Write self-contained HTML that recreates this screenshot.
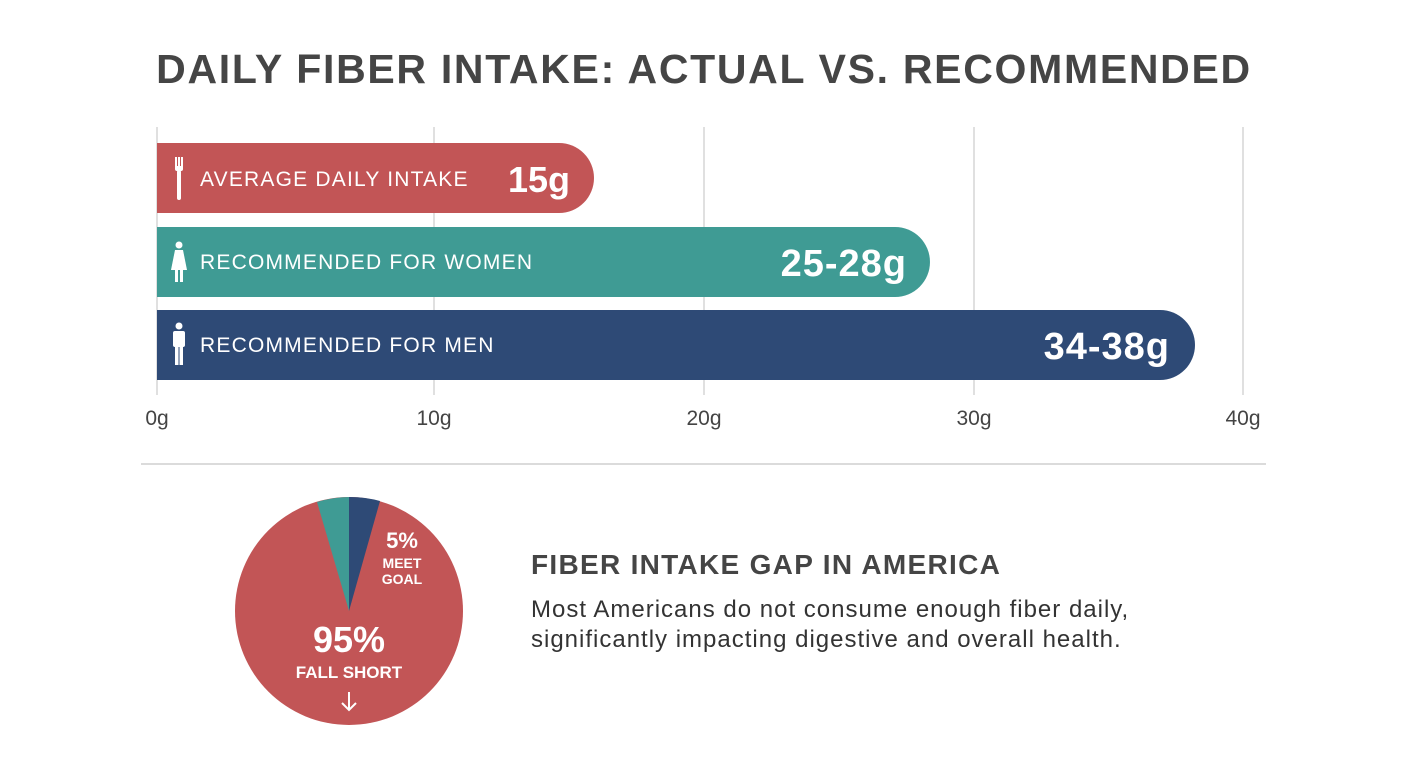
<!DOCTYPE html>
<html><head><meta charset="utf-8"><style>
html,body{margin:0;padding:0;background:#fff;}
body{width:1408px;height:768px;position:relative;overflow:hidden;font-family:"Liberation Sans",sans-serif;}
</style></head><body>
<svg width="1408" height="768" style="position:absolute;left:0;top:0" font-family="Liberation Sans, sans-serif">
<text x="704" y="83" text-anchor="middle" font-size="41" font-weight="bold" fill="#454545" letter-spacing="1.7">DAILY FIBER INTAKE: ACTUAL VS. RECOMMENDED</text>
<g stroke="#d6d6d6" stroke-width="1.5">
<line x1="157" y1="127" x2="157" y2="395"/><line x1="434" y1="127" x2="434" y2="395"/>
<line x1="704" y1="127" x2="704" y2="395"/><line x1="974" y1="127" x2="974" y2="395"/>
<line x1="1243" y1="127" x2="1243" y2="395"/>
</g>
<path d="M157 143 H559 A35 35 0 0 1 559 213 H157 Z" fill="#c25556"/>
<path d="M157 227 H895 A35 35 0 0 1 895 297 H157 Z" fill="#3f9b94"/>
<path d="M157 310 H1160 A35 35 0 0 1 1160 380 H157 Z" fill="#2e4a76"/>
<g fill="#fff">
<rect x="175" y="157" width="2" height="11"/><rect x="178" y="157" width="2" height="11"/><rect x="181" y="157" width="2" height="11"/>
<rect x="175" y="166" width="8" height="5" rx="2"/><rect x="177" y="170" width="4" height="30" rx="2"/>
<circle cx="179" cy="245" r="3.5"/><path d="M175 250 H183 L187 270 H171 Z"/><rect x="175" y="269" width="3" height="13"/><rect x="180" y="269" width="3" height="13"/>
<circle cx="179" cy="326" r="3.5"/><rect x="173" y="331" width="12" height="16" rx="2"/><rect x="175" y="345" width="3.5" height="20"/><rect x="179.5" y="345" width="3.5" height="20"/>
</g>
<g fill="#fff" font-size="21" letter-spacing="1.2">
<text x="200" y="186">AVERAGE DAILY INTAKE</text>
<text x="200" y="269">RECOMMENDED FOR WOMEN</text>
<text x="200" y="352">RECOMMENDED FOR MEN</text>
</g>
<g fill="#fff" font-weight="bold" text-anchor="end">
<text x="570" y="192" font-size="36">15g</text>
<text x="907" y="276" font-size="38" letter-spacing="1">25-28g</text>
<text x="1170" y="359" font-size="38" letter-spacing="1">34-38g</text>
</g>
<g fill="#444" font-size="21" text-anchor="middle">
<text x="157" y="425">0g</text><text x="434" y="425">10g</text><text x="704" y="425">20g</text><text x="974" y="425">30g</text><text x="1243" y="425">40g</text>
</g>
<line x1="141" y1="464" x2="1266" y2="464" stroke="#cfcfcf" stroke-width="1.5"/>
<circle cx="349" cy="611" r="114" fill="#c25556"/>
<path d="M349 611 L349 497 A114 114 0 0 1 380 501 Z" fill="#2e4a76"/>
<path d="M349 611 L317 502 A114 114 0 0 1 349 497 Z" fill="#3f9b94"/>
<g fill="#fff" font-weight="bold" text-anchor="middle">
<text x="402" y="548" font-size="22">5%</text>
<text x="402" y="568" font-size="14">MEET</text>
<text x="402" y="584" font-size="14">GOAL</text>
<text x="349" y="652" font-size="36">95%</text>
<text x="349" y="678" font-size="17">FALL SHORT</text>
</g>
<path d="M349 692 V710 M342 703 L349 710 L356 703" stroke="#fff" stroke-width="2" fill="none"/>
<text x="531" y="574" font-size="28" font-weight="bold" fill="#454545" letter-spacing="1.3">FIBER INTAKE GAP IN AMERICA</text>
<text x="531" y="617" font-size="24" fill="#333" letter-spacing="1">Most Americans do not consume enough fiber daily,</text>
<text x="531" y="647" font-size="24" fill="#333" letter-spacing="1">significantly impacting digestive and overall health.</text>
</svg>
</body></html>
